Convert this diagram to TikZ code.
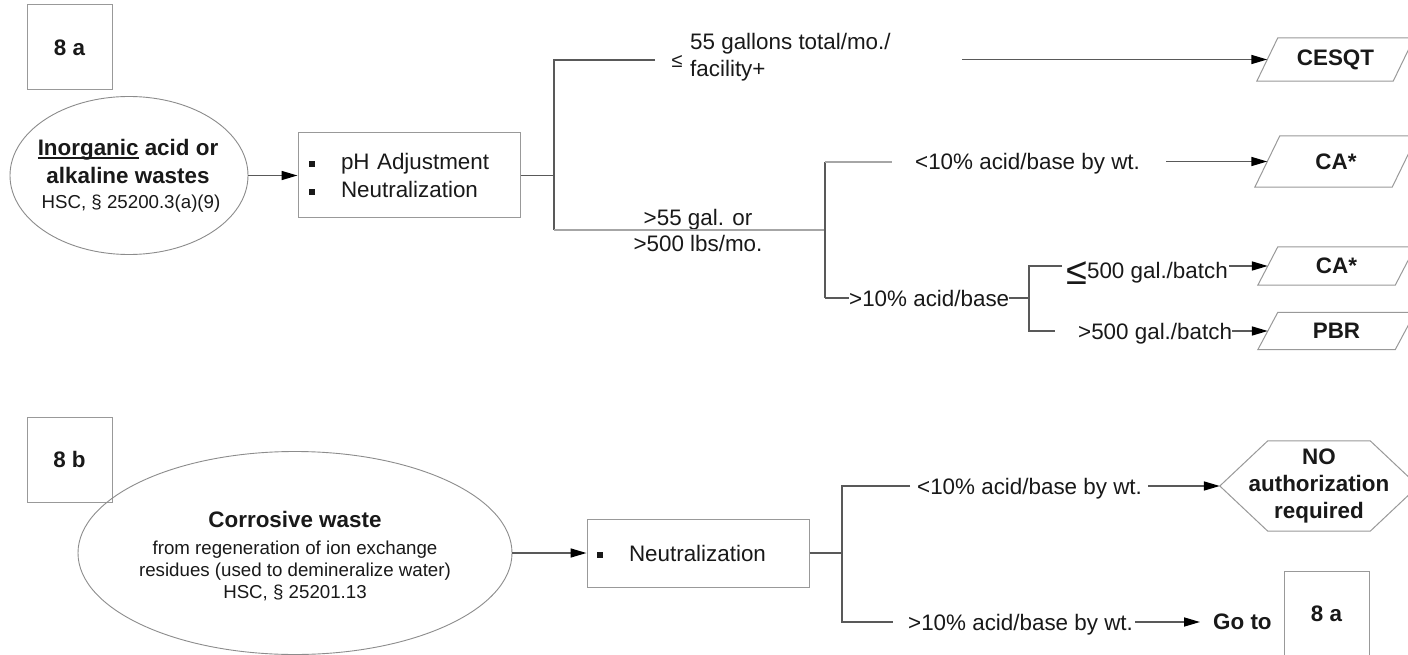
\documentclass[tikz,border=0pt]{standalone}
\usepackage{fontspec}
\setmainfont{Liberation Sans}
\usetikzlibrary{arrows.meta,shapes.geometric}
\newcommand\fN{\fontsize{22.4}{28}\selectfont}
\newcommand\fS{\fontsize{18.7}{22}\selectfont}
\newcommand\bul{\makebox[32pt][l]{\rule[3pt]{6pt}{6pt}}}
\newcommand\ulword[1]{\setbox0\hbox{#1}\rlap{\rule[-3.5pt]{\wd0}{1.6pt}}\box0\relax}
\newcommand\drawpara[2]{\draw[boxline] ([xshift=-#2]#1.south west) -- ([xshift=-#2]#1.south east) -- ([xshift=#2]#1.north east) -- ([xshift=#2]#1.north west) -- cycle;}
\newcommand\drawhex[2]{\draw[boxline] (#1.west) -- ([xshift=#2]#1.north west) -- ([xshift=-#2]#1.north east) -- (#1.east) -- ([xshift=-#2]#1.south east) -- ([xshift=#2]#1.south west) -- cycle;}
\begin{document}
\begin{tikzpicture}[x=1pt,y=-1pt,
  txt/.style={inner sep=0pt, font=\fN, text=black!90},
  btxt/.style={inner sep=0pt, font=\fN\bfseries, text=black!90},
  stxt/.style={inner sep=0pt, font=\fS, text=black!90},
  boxline/.style={draw=black!40, line width=1pt},
  lbox/.style={boxline, rectangle, inner sep=0pt, minimum width=85pt, minimum height=85pt, font=\fN\bfseries, text=black!90},
  rbox/.style={boxline, rectangle, inner ysep=0pt, font=\fN, text=black!90},
  pnode/.style={rectangle, inner sep=0pt, font=\fN\bfseries, text=black!90},
  ell/.style={ellipse, draw=black!45, line width=0.9pt, inner sep=0pt},
  conn/.style={draw=black!65, line width=1.6pt},
  thin/.style={draw=black!35, line width=1.1pt},
  arr/.style={conn, -{Triangle[length=16pt,width=9pt,color=black,fill=black]}}]
\useasboundingbox (0,0) rectangle (1408,655);
\fill[white] (0,0) rectangle (1408,655);

% ---------- 8a section ----------
\node[lbox] (b8a) at (69.5,47.5) {8 a};
\node[ell, minimum width=238pt, minimum height=158pt] (ellA) at (129,175.5) {};
\node[btxt, align=center] (tA1) at (128,161) {\ulword{Inorganic} acid or\\alkaline wastes};
\node[stxt, anchor=base] (tA2) at (131,209) {HSC, § 25200.3(a)(9)};

\node[rbox, minimum width=222pt, minimum height=85pt, text width=200pt, inner xsep=11pt, align=left] (boxA) at (409,175.5) {\bul pH Adjustment\\\bul Neutralization};

\node[txt, font=\fontsize{20}{20}\selectfont] (le) at (677,61) {≤};
\node[txt, align=left, anchor=west, font=\fontsize{22.4}{27}\selectfont] (lbl55) at (690,57.7) {55 gallons total/mo./\\facility+};
\node[txt, align=center, font=\fontsize{22.4}{26}\selectfont] (lbl500) at (698,230) {>55 gal. or\\>500 lbs/mo.};

\node[txt, anchor=base west] (t10a) at (915,170) {<10\% acid/base by wt.};
\node[txt, anchor=west] (t10b) at (849,298) {>10\% acid/base};
\node[txt, anchor=base west] (t500a) at (1066,278) {\raisebox{-6pt}{\fontsize{38}{38}\selectfont ≤}500 gal./batch};
\node[txt, anchor=base west] (t500b) at (1078,339) {>500 gal./batch};

\node[pnode, minimum width=136pt, minimum height=43pt] (pCESQT) at (1335.5,59.5) {CESQT};
\node[pnode, minimum width=137pt, minimum height=51pt] (pCA1) at (1336,161.5) {CA*};
\node[pnode, minimum width=137pt, minimum height=38pt] (pCA2) at (1336.5,266) {CA*};
\node[pnode, minimum width=137pt, minimum height=37pt] (pPBR) at (1336.5,331) {PBR};
\drawpara{pCESQT}{10.5pt}
\drawpara{pCA1}{12.5pt}
\drawpara{pCA2}{10pt}
\drawpara{pPBR}{10pt}

\coordinate (jA) at (554,175.5);
\coordinate (jA1) at (554,60);
\coordinate (jA2) at (554,230);
\coordinate (e1) at (655,60);
\coordinate (s1) at (962,59.5);
\coordinate (jB) at (825,230);
\coordinate (jB1) at (825,162);
\coordinate (jB2) at (825,298);
\coordinate (e2) at (892,162);
\coordinate (s2) at (1166,161.5);
\coordinate (jC) at (1029,298);
\coordinate (jC1) at (1029,266);
\coordinate (jC2) at (1029,331);
\coordinate (e3) at (1062,266);
\coordinate (e4) at (1055,331);
\coordinate (s3) at (1229,266);
\coordinate (s4) at (1232,331);

\draw[arr] (ellA.east) -- (boxA.west);
\draw[conn] (boxA.east) -- (jA);
\draw[conn] (e1) -- (jA1) -- (jA2);
\draw[thin] (jA2) -- (jB);
\draw[arr] (s1) -- (pCESQT.west);
\draw[conn] (jB1) -- (jB2);
\draw[thin] (jB1) -- (e2);
\draw[arr] (s2) -- (pCA1.west);
\draw[conn] (jB2) -- (t10b.west);
\draw[conn] (t10b.east) -- (jC);
\draw[conn] (e3) -- (jC1) -- (jC2) -- (e4);
\draw[arr] (s3) -- (pCA2.west);
\draw[arr] (s4) -- (pPBR.west);

% ---------- 8b section ----------
\node[lbox] (b8b) at (69.5,459.5) {8 b};
\node[ell, minimum width=434pt, minimum height=203pt] (ellB) at (295,553) {};
\node[btxt, anchor=base] (tB1) at (295,527) {Corrosive waste};
\node[stxt, align=center] (tB2) at (295,571) {from regeneration of ion exchange\\residues (used to demineralize water)\\HSC, § 25201.13};

\node[rbox, minimum width=222pt, minimum height=68pt, text width=202pt, inner xsep=10pt, align=left] (boxB) at (698,553) {\bul Neutralization};

\node[txt, anchor=base west] (t10c) at (917,494) {<10\% acid/base by wt.};
\node[pnode, minimum width=198pt, minimum height=90pt, align=center, font=\fontsize{22.4}{27}\selectfont\bfseries] (hex) at (1319,486) {NO\\authorization\\required};
\drawhex{hex}{48pt}
\node[txt, anchor=base west] (t10d) at (908,630) {>10\% acid/base by wt.};
\node[btxt, anchor=west] (goto) at (1213,622) {Go to};
\node[lbox] (b8a2) at (1326.5,613.5) {8 a};

\coordinate (jD) at (842,553);
\coordinate (jD1) at (842,486);
\coordinate (jD2) at (842,622);
\coordinate (e5) at (910,486);
\coordinate (s5) at (1148,486);
\coordinate (e6) at (893,622);
\coordinate (s6) at (1135,622);

\draw[arr] (ellB.east) -- (boxB.west);
\draw[conn] (boxB.east) -- (jD);
\draw[conn] (e5) -- (jD1) -- (jD2) -- (e6);
\draw[arr] (s5) -- (hex.west);
\draw[arr, shorten >=13pt] (s6) -- (goto.west);
\end{tikzpicture}
\end{document}
